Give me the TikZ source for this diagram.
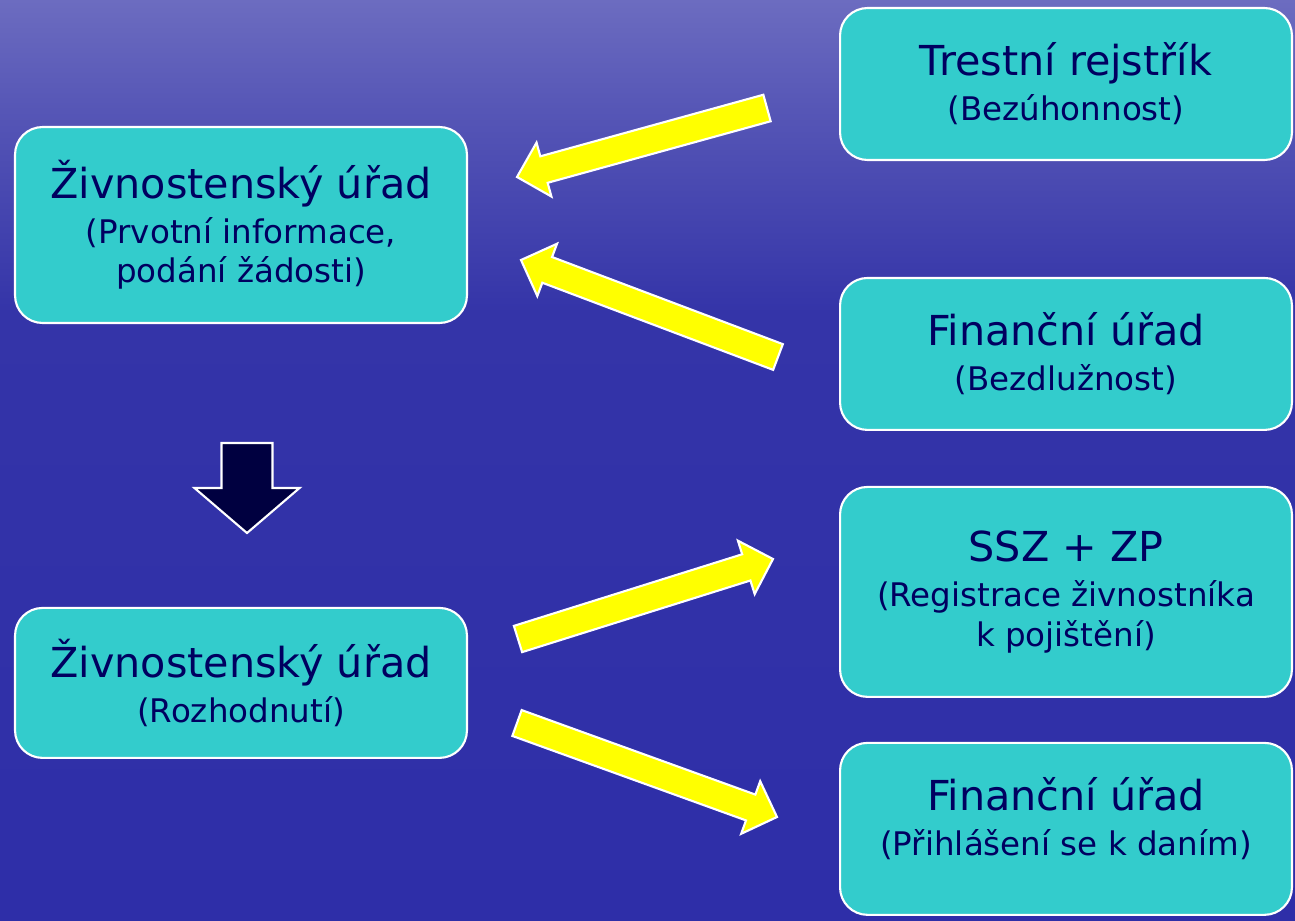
\documentclass[tikz,border=0pt]{standalone}
\usepackage{fontspec}
\setmainfont{DejaVu Sans}
\usetikzlibrary{positioning,calc}

\definecolor{boxcyan}{HTML}{33CCCC}
\definecolor{textnavy}{HTML}{000060}
\definecolor{arrowyellow}{HTML}{FFFF00}
\definecolor{arrownavy}{HTML}{000040}
\definecolor{bgtop}{HTML}{6C6CC0}
\definecolor{bgupper}{HTML}{5656B6}
\definecolor{bgmid}{HTML}{3434A8}
\definecolor{bgbot}{HTML}{2E2EA8}

\pgfdeclareverticalshading{water}{100bp}{color(0bp)=(bgbot); color(25bp)=(bgbot); color(58bp)=(bgmid); color(69bp)=(bgupper); color(75bp)=(bgtop); color(100bp)=(bgtop)}

\newcommand{\boxhead}[1]{{\fontsize{23.5}{28}\selectfont #1}\\[3pt]}

% style, tail, tip, half shaft, half head, head length
\newcommand{\blockarrow}[6]{%
  \coordinate (neck) at ($(#3)!#6!(#2)$);
  \filldraw[#1] ($(#2)!#4!90:(#3)$) -- ($(neck)!#4!90:(#3)$) -- ($(neck)!#5!90:(#3)$)
    -- (#3) -- ($(neck)!#5!-90:(#3)$) -- ($(neck)!#4!-90:(#3)$) -- ($(#2)!#4!-90:(#3)$) -- cycle;}

\begin{document}
\begin{tikzpicture}[x=0.02cm,y=-0.02cm,on grid,
    box/.style={rectangle, rounded corners=0.55cm, draw=white, line width=1.2pt,
      fill=boxcyan, text=textnavy, align=center, minimum width=9.04cm,
      font=\fontsize{18.5}{22.5}\selectfont},
    yarrow/.style={draw=white, line width=1.2pt, fill=arrowyellow, line join=miter},
    darrow/.style={draw=white, line width=1.2pt, fill=arrownavy, line join=miter}]

    \useasboundingbox (0,0) rectangle (1295,920);
    \shade[shading=water] (0,0) rectangle (1295,920);

    % left column
    \node[box, minimum height=3.92cm] (zu1) at (241,225)
      {\boxhead{Živnostenský úřad}(Prvotní informace,\\ podání žádosti)};
    \node[box, minimum height=3cm] (zu2) [below=9.16cm of zu1]
      {\boxhead{Živnostenský úřad}(Rozhodnutí)};

    % right column
    \node[box, minimum height=3.04cm] (tr) at (1066,84)
      {\boxhead{Trestní rejstřík}(Bezúhonnost)};
    \node[box, minimum height=3.04cm] (fu1) [below=5.4cm of tr]
      {\boxhead{Finanční úřad}(Bezdlužnost)};
    \node[box, minimum height=4.2cm] (ssz) [below=4.76cm of fu1]
      {\boxhead{SSZ + ZP}(Registrace živnostníka\\ k pojištění)};
    \node[box, minimum height=3.44cm, text depth=0.5cm] (fu2) [below=4.74cm of ssz]
      {\boxhead{Finanční úřad}(Přihlášení se k daním)};

    % arrow ends
    \coordinate (tr-out) at (767,108);
    \coordinate (zu1-in1) at (517,177);
    \coordinate (fu1-out) at (778,357);
    \coordinate (zu1-in2) at (521,260);
    \coordinate (zu1-out) at (247,443);
    \coordinate (zu2-in) at (247,533);
    \coordinate (zu2-out1) at (518,639);
    \coordinate (ssz-in) at (773,559);
    \coordinate (zu2-out2) at (517,723);
    \coordinate (fu2-in) at (777,817);

    \blockarrow{yarrow}{tr-out}{zu1-in1}{0.275cm}{0.56cm}{0.56cm}
    \blockarrow{yarrow}{fu1-out}{zu1-in2}{0.275cm}{0.56cm}{0.56cm}
    \blockarrow{darrow}{zu1-out}{zu2-in}{0.51cm}{1.05cm}{0.9cm}
    \blockarrow{yarrow}{zu2-out1}{ssz-in}{0.275cm}{0.56cm}{0.56cm}
    \blockarrow{yarrow}{zu2-out2}{fu2-in}{0.275cm}{0.56cm}{0.56cm}

\end{tikzpicture}
\end{document}
